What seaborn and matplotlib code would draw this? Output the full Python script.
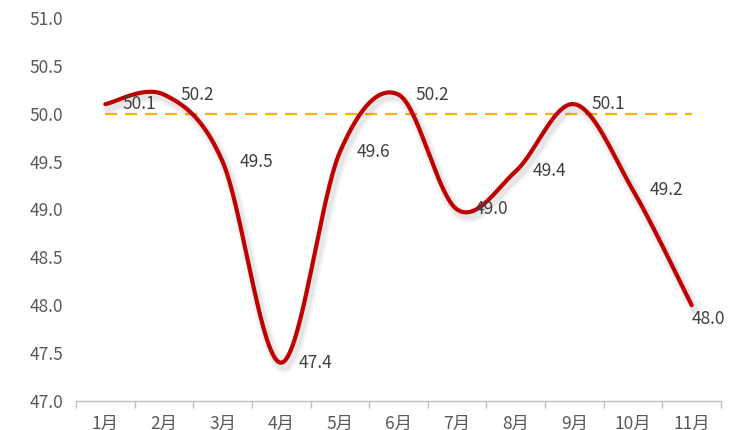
import numpy as np
import pandas as pd
import matplotlib
matplotlib.use("Agg")
import matplotlib.pyplot as plt
import matplotlib.patheffects as pe
from matplotlib.ticker import FixedLocator
import seaborn as sns

months = ["1月", "2月", "3月", "4月", "5月", "6月", "7月", "8月", "9月", "10月", "11月"]
pmi = [50.1, 50.2, 49.5, 47.4, 49.6, 50.2, 49.0, 49.4, 50.1, 49.2, 48.0]
threshold = 50.0
y_ticks = [47.0, 47.5, 48.0, 48.5, 49.0, 49.5, 50.0, 50.5, 51.0]

sns.set_theme(style="white")
plt.rcParams['font.family'] = ['Noto Sans CJK SC', 'DejaVu Sans']

fig = plt.figure(figsize=(7.42, 4.30), dpi=100)
ax = fig.add_axes([76/742, 1 - 401/430, (721 - 76)/742, (401 - 18)/430])

xs = np.arange(len(months), dtype=float)
ys = np.array(pmi, dtype=float)

# Excel-style smoothed line (Bezier through data points, Catmull-Rom handles)
sx, sy = 58.6, 95.75
P = np.column_stack([xs * sx, ys * sy])
Pe = np.vstack([P[0], P, P[-1]])
segs = []
t = np.linspace(0, 1, 40, endpoint=False)[:, None]
for i in range(len(P) - 1):
    p0, p1, p2, p3 = Pe[i], Pe[i + 1], Pe[i + 2], Pe[i + 3]
    c1 = p1 + (p2 - p0) / 6
    c2 = p2 - (p3 - p1) / 6
    B = (1 - t) ** 3 * p1 + 3 * (1 - t) ** 2 * t * c1 + 3 * (1 - t) * t ** 2 * c2 + t ** 3 * p2
    segs.append(B)
segs.append(P[-1][None, :])
curve = np.vstack(segs)
smooth = pd.DataFrame({"x": curve[:, 0] / sx, "y": curve[:, 1] / sy})

# threshold dashed line
ref = pd.DataFrame({"x": xs, "y": [threshold] * len(months)})
sns.lineplot(data=ref, x="x", y="y", ax=ax, color="#F4B614", lw=1.6,
             linestyle=(0, (5.5, 3.5)), zorder=2)

shadow = [pe.SimpleLineShadow(offset=(2, -3), shadow_color="black", alpha=0.04, linewidth=9),
          pe.SimpleLineShadow(offset=(2, -3), shadow_color="black", alpha=0.06, linewidth=5.5),
          pe.Normal()]
sns.lineplot(data=smooth, x="x", y="y", ax=ax, sort=False, color="#C00000", lw=3.0,
             zorder=3, path_effects=shadow)

for i, v in enumerate(pmi):
    if i == len(pmi) - 1:
        ax.annotate(f"{v:.1f}", (xs[i], v), xytext=(0, -5), textcoords="offset pixels",
                    ha="left", va="top", fontsize=12.5, color="#404040", zorder=4)
    else:
        ax.annotate(f"{v:.1f}", (xs[i], v), xytext=(17, 0), textcoords="offset pixels",
                    ha="left", va="center", fontsize=12.5, color="#404040", zorder=4)

ax.set_xlim(-0.5, len(months) - 0.5)
ax.set_ylim(47.0, 51.0)
ax.set_yticks(y_ticks)
ax.set_yticklabels([f"{v:.1f}" for v in y_ticks])
ax.set_xticks(xs)
ax.set_xticklabels(months)
ax.xaxis.set_minor_locator(FixedLocator(np.arange(-0.5, len(months), 1.0)))
ax.tick_params(axis="x", which="major", length=0, pad=10, labelsize=12.5, labelcolor="#595959")
ax.tick_params(axis="x", which="minor", length=5, width=1, color="#BFBFBF", direction="out", bottom=True)
ax.tick_params(axis="y", length=0, pad=9, labelsize=12.5, labelcolor="#595959")
ax.set_xlabel("")
ax.set_ylabel("")
ax.grid(False)
for s in ["left", "right", "top"]:
    ax.spines[s].set_visible(False)
ax.spines["bottom"].set_color("#BFBFBF")
ax.spines["bottom"].set_linewidth(1)

fig.savefig("out.png", dpi=100)
